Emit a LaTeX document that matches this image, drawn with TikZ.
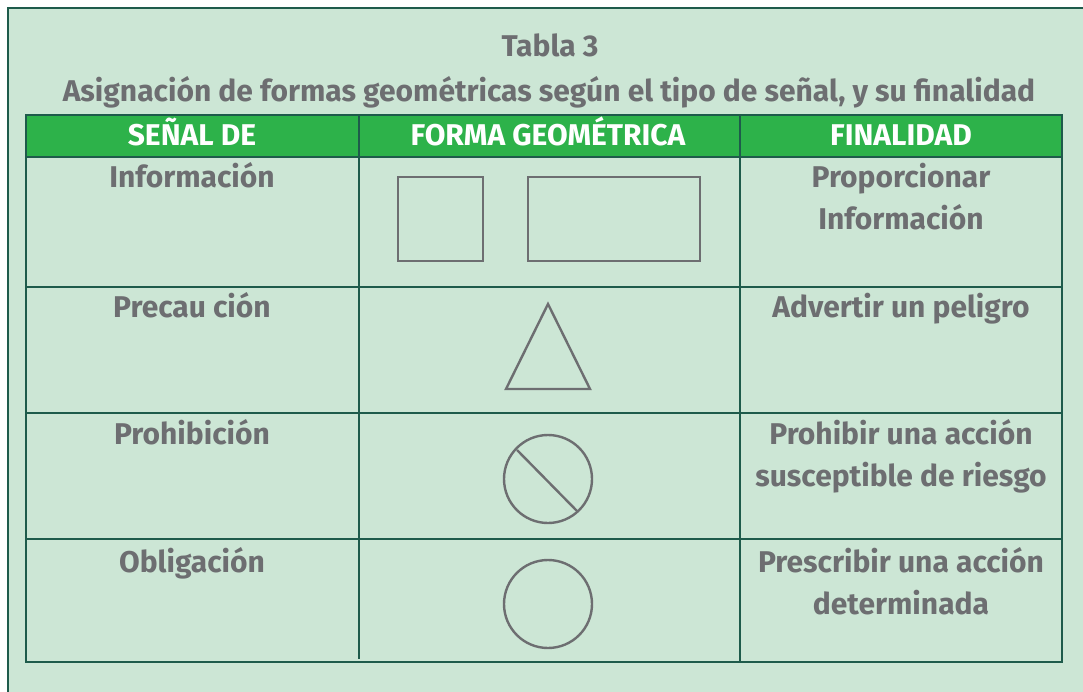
\documentclass[tikz,border=0pt]{standalone}
\usepackage{fontspec}
\setmainfont{Fira Sans}
\definecolor{bg}{HTML}{CCE6D5}
\definecolor{frame}{HTML}{1E5B4B}
\definecolor{hdr}{HTML}{2DB24A}
\definecolor{txt}{HTML}{6D6E71}
\tikzset{
  cell/.style={font=\fontsize{30}{34}\selectfont\bfseries, text=txt, align=center, inner sep=0pt, anchor=base},
  head/.style={font=\fontsize{30}{34}\selectfont\bfseries, text=white, inner sep=0pt, anchor=base},
  gridline/.style={draw=frame, line width=1.5pt},
  glyph/.style={draw=txt, line width=2.4pt}
}
\begin{document}
\begin{tikzpicture}[x=1pt,y=-1pt]
\useasboundingbox (0,0) rectangle (1083,692);
\fill[white] (0,0) rectangle (1083,692);
\fill[bg] (8,8) rectangle (1090,700);
\draw[frame, line width=2pt] (1090,8) -- (8,8) -- (8,700);
% title
\node[cell] (t1) at (550,57) {Tabla 3};
\node[cell] (t2) at (549,102) {Asignación de formas geométricas según el tipo de señal, y su finalidad};
% header
\fill[hdr] (26,115) rectangle (1062,157);
\node[head] (h1) at (192,146) {SEÑAL DE};
\node[head] (h2) at (548,146) {FORMA GEOMÉTRICA};
\node[head] (h3) at (901,146) {FINALIDAD};
% grid
\draw[gridline] (26,115) rectangle (1062,662);
\draw[gridline] (26,157) -- (1062,157);
\draw[gridline] (26,287) -- (1062,287);
\draw[gridline] (26,413) -- (1062,413);
\draw[gridline] (26,539) -- (1062,539);
\draw[gridline] (359,115) -- (359,659);
\draw[gridline] (740,115) -- (740,662);
% column 1
\node[cell] (a1) at (192,188) {Información};
\node[cell] (a2) at (192,317) {Precau ción};
\node[cell] (a3) at (192,444) {Prohibición};
\node[cell] (a4) at (192,572) {Obligación};
% column 3
\node[cell] (c1a) at (901,188) {Proporcionar};
\node[cell] (c1b) at (901,230) {Información};
\node[cell] (c2) at (901,317) {Advertir un peligro};
\node[cell] (c3a) at (901,444) {Prohibir una acción};
\node[cell] (c3b) at (901,486) {susceptible de riesgo};
\node[cell] (c4a) at (901,572) {Prescribir una acción};
\node[cell] (c4b) at (901,614) {determinada};
% shapes
\draw[glyph] (398,177) rectangle (483,261);
\draw[glyph] (528,177) rectangle (700,261);
\draw[glyph] (548,304) -- (590,389) -- (506,389) -- cycle;
\draw[glyph] (548,479) circle (44);
\draw[glyph] (517,450) -- (577,511);
\draw[glyph] (548,604) circle (44);
\end{tikzpicture}
\end{document}
